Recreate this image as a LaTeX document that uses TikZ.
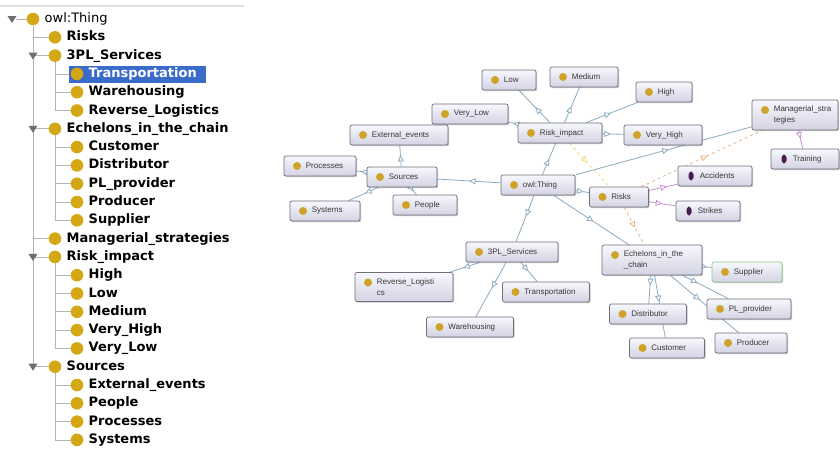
\documentclass[tikz,border=0pt]{standalone}
\usepackage{fontspec}
\newfontfamily\treefont{DejaVu Sans}
\newfontfamily\graphfont{Liberation Sans}
\usetikzlibrary{arrows.meta,decorations.markings,shadows,backgrounds}
\definecolor{dotgold}{HTML}{D4A814}
\definecolor{icongold}{HTML}{CFA32A}
\definecolor{diapurple}{HTML}{4A1E4E}
\definecolor{boxgray}{HTML}{6F6F7A}
\definecolor{boxtop}{HTML}{F7F7FD}
\definecolor{boxbot}{HTML}{D3D3E4}
\definecolor{txtgray}{HTML}{383838}
\definecolor{isablue}{HTML}{8CAAC0}
\definecolor{instpurple}{HTML}{C890D0}
\definecolor{dashtan}{HTML}{E4B687}
\definecolor{dashyel}{HTML}{EEDD80}
\definecolor{selblue}{HTML}{3A6BC9}
\definecolor{treegray}{HTML}{B4B4B4}
\definecolor{expgray}{HTML}{6E6E6E}
\definecolor{suppgreen}{HTML}{86C986}
\tikzset{
  treedot/.style={circle, fill=dotgold, minimum size=12.6pt, inner sep=0pt},
  treelbl/.style={anchor=west, inner sep=0pt, text height=9.5pt, text depth=2.5pt,
    font=\treefont\bfseries\fontsize{13}{14}\selectfont},
  treeline/.style={draw=treegray, line width=0.8pt},
  onto/.style={draw=boxgray, line width=0.7pt, rounded corners=2pt, top color=boxtop,
    bottom color=boxbot, minimum height=20pt, inner sep=0pt,
    drop shadow={shadow xshift=1.2pt, shadow yshift=-1.2pt, opacity=0.3, fill=black!70}},
  cls/.style={onto, path picture={\fill[icongold]
    ([xshift=13pt,yshift=-10pt]path picture bounding box.north west) circle (4pt);}},
  indiv/.style={onto, path picture={\fill[diapurple]
    ([xshift=13pt,yshift=-10pt]path picture bounding box.north west)
    +(0,5.5pt) -- +(3.6pt,0) -- +(0,-5.5pt) -- +(-3.6pt,0) -- cycle;}},
  cname/.style={anchor=west, xshift=22pt, align=left, inner sep=0pt, text=txtgray,
    font=\graphfont\fontsize{8}{11.5}\selectfont},
  midtip/.style={postaction={decorate}, decoration={markings,
    mark=at position #1 with {\arrow{Triangle[length=6.5pt,width=6pt,fill=white]}}}},
  isa/.style={draw=isablue, line width=0.8pt, midtip=#1},
  isa/.default=0.5,
  inst/.style={draw=instpurple, line width=0.8pt, midtip=#1},
  prop/.style={draw=dashtan, line width=0.8pt, dashed, midtip=#1},
}
\begin{document}
\begin{tikzpicture}[x=1pt,y=-1pt]
\useasboundingbox (0,0) rectangle (840,450);
\begin{scope}[on background layer]
  \fill[white] (0,0) rectangle (840,450);
\end{scope}
%    \draw[gray!30, thin, step=10] (0,0) grid (840,450);

% class hierarchy
\draw[line width=1.5pt, black!12] (0,6) -- (244,6);
\fill[selblue] (69,66) rectangle (206,83);
\node[treedot] (d0) at (33,19) {};
\node[treelbl, font=\treefont\fontsize{13}{14}\selectfont] (t0) at (44.5,19) {owl:Thing};
\foreach \lv/\txt/\col [count=\i] in {1/Risks/black, 1/3PL\_Services/black,
    2/Transportation/white, 2/Warehousing/black, 2/Reverse\_Logistics/black,
    1/Echelons\_in\_the\_chain/black, 2/Customer/black, 2/Distributor/black,
    2/PL\_provider/black, 2/Producer/black, 2/Supplier/black,
    1/Managerial\_strategies/black, 1/Risk\_impact/black, 2/High/black, 2/Low/black,
    2/Medium/black, 2/Very\_High/black, 2/Very\_Low/black, 1/Sources/black,
    2/External\_events/black, 2/People/black, 2/Processes/black, 2/Systems/black}
{
  \node[treedot] (d\i) at ({33+22*\lv},{19+18.3*\i}) {};
  \node[treelbl, text=\col] (t\i) at ({44.5+22*\lv},{19+18.3*\i}) {\txt};
}
\begin{scope}[on background layer]
  \draw[treeline] (16,19) -- (d0);
  \foreach \j in {1,2,6,12,13,19} \draw[treeline] (d0) |- (d\j);
  \foreach \p/\c in {2/3,2/4,2/5,6/7,6/8,6/9,6/10,6/11,13/14,13/15,13/16,13/17,13/18,
      19/20,19/21,19/22,19/23}
    \draw[treeline] (d\p) |- (d\c);
\end{scope}
\foreach \xx/\i in {12/0,33/2,33/6,33/13,33/19}
  \fill[expgray] ({\xx-4.5},{19+18.3*\i-3}) -- ++(9,0) -- ({\xx},{19+18.3*\i+4}) -- cycle;

% ontology graph
\node[cls, minimum width=54pt, label={[cname]west:Low}] (low) at (509,80) {};
\node[cls, minimum width=68pt, label={[cname]west:Medium}] (medium) at (584,77) {};
\node[cls, minimum width=56pt, label={[cname]west:High}] (high) at (664,92) {};
\node[cls, minimum width=76pt, label={[cname]west:Very\_Low}] (verylow) at (470,114) {};
\node[cls, minimum width=84pt, label={[cname]west:Risk\_impact}] (riskimp) at (560,133) {};
\node[cls, minimum width=78pt, label={[cname]west:Very\_High}] (veryhigh) at (663,135) {};
\node[cls, minimum width=86pt, minimum height=30pt,
  label={[cname]west:Managerial\_stra\\tegies}] (manag) at (795,115) {};
\node[indiv, minimum width=68pt, label={[cname]west:Training}] (training) at (805,159) {};
\node[cls, minimum width=98pt, label={[cname]west:External\_events}] (external) at (399,135) {};
\node[cls, minimum width=72pt, label={[cname]west:Processes}] (processes) at (320,166) {};
\node[cls, minimum width=70pt, label={[cname]west:Sources}] (sources) at (402,177) {};
\node[cls, minimum width=74pt, label={[cname]west:{owl:Thing}}] (thing) at (538,185) {};
\node[cls, minimum width=59pt, label={[cname]west:Risks}] (risks) at (619,197) {};
\node[indiv, minimum width=74pt, label={[cname]west:Accidents}] (accidents) at (715,176) {};
\node[indiv, minimum width=64pt, label={[cname]west:Strikes}] (strikes) at (708,211) {};
\node[cls, minimum width=70pt, label={[cname]west:Systems}] (systems) at (325,211) {};
\node[cls, minimum width=64pt, label={[cname]west:People}] (people) at (425,205) {};
\node[cls, minimum width=92pt, label={[cname]west:3PL\_Services}] (tpl) at (512,252) {};
\node[cls, minimum width=100pt, minimum height=30pt,
  label={[cname]west:Echelons\_in\_the\\\_chain}] (echelons) at (652,260) {};
\node[cls, minimum width=70pt, draw=suppgreen, label={[cname]west:Supplier}] (supplier) at (747,272) {};
\node[cls, minimum width=98pt, minimum height=29pt,
  label={[cname]west:Reverse\_Logisti\\cs}] (reverse) at (404,287) {};
\node[cls, minimum width=87pt, label={[cname]west:Transportation}] (transport) at (546,292) {};
\node[cls, minimum width=87pt, label={[cname]west:Warehousing}] (warehousing) at (470,327) {};
\node[cls, minimum width=77pt, label={[cname]west:Distributor}] (distributor) at (648,314) {};
\node[cls, minimum width=84pt, label={[cname]west:PL\_provider}] (plprov) at (749,309) {};
\node[cls, minimum width=75pt, label={[cname]west:Customer}] (customer) at (667,348) {};
\node[cls, minimum width=72pt, label={[cname]west:Producer}] (producer) at (751,343) {};

\begin{scope}[on background layer]
  \draw[isa] (thing) -- (sources);
  \draw[isa] (thing) -- (riskimp);
  \draw[isa=0.45] (thing) -- (tpl);
  \draw[isa=0.6] (thing) -- (risks);
  \draw[isa=0.53] (thing) -- (echelons);
  \draw[isa=0.53] (thing) -- (manag);
  \draw[isa=0.47] (riskimp) -- (low);
  \draw[isa=0.46] (riskimp) -- (medium);
  \draw[isa=0.48] (riskimp) -- (high);
  \draw[isa=0.4] (riskimp) -- (veryhigh);
  \draw[isa] (riskimp) -- (verylow);
  \draw[isa=0.55] (sources) -- (external);
  \draw[isa=0.55] (sources) -- (processes);
  \draw[isa=0.45] (sources) -- (systems);
  \draw[isa] (sources) -- (people);
  \draw[isa=0.56] (tpl) -- (reverse);
  \draw[isa=0.45] (tpl) -- (transport);
  \draw[isa=0.47] (tpl) -- (warehousing);
  \draw[isa] (echelons) -- (supplier);
  \draw[isa=0.33] (echelons) -- (plprov);
  \draw[isa=0.43] (echelons) -- (producer);
  \draw[isa=0.35] (echelons) -- (distributor);
  \draw[isa=0.43] (echelons) -- (customer);
  \draw[inst=0.63] (risks) -- (accidents);
  \draw[inst=0.5] (risks) -- (strikes);
  \draw[inst=0.45] (manag) -- (training);
  \draw[prop=0.45, draw=dashyel] (riskimp) -- (risks);
  \draw[prop=0.55] (risks) -- (echelons);
  \draw[prop=0.55] (risks) -- (manag);
\end{scope}
\end{tikzpicture}
\end{document}
